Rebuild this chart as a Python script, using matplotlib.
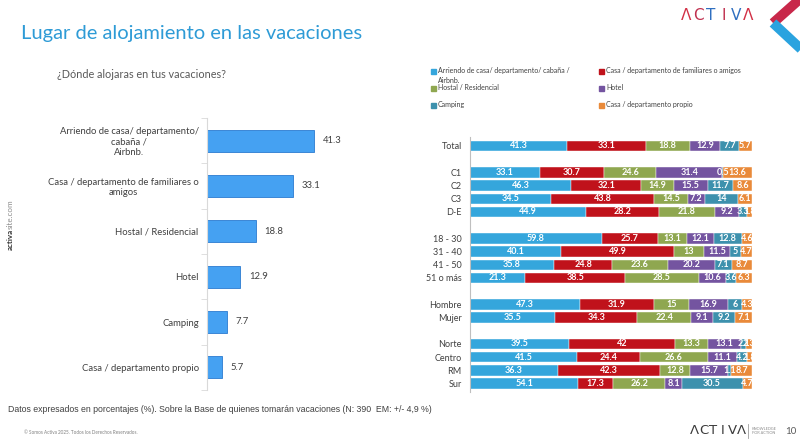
import numpy as np
import matplotlib; matplotlib.use("Agg")
import matplotlib.pyplot as plt
from matplotlib.patches import Rectangle
from matplotlib.lines import Line2D

# ---- data ----
left_cats = ["Arriendo de casa/ departamento/\ncabaña /\nAirbnb.",
             "Casa / departamento de familiares o\namigos",
             "Hostal / Residencial", "Hotel", "Camping", "Casa / departamento propio"]
left_vals = [41.3, 33.1, 18.8, 12.9, 7.7, 5.7]

groups = [["Total"], ["C1", "C2", "C3", "D-E"], ["18 - 30", "31 - 40", "41 - 50", "51 o más"],
          ["Hombre", "Mujer"], ["Norte", "Centro", "RM", "Sur"]]
series_names = ["Arriendo de casa/ departamento/ cabaña /\nAirbnb.",
                "Casa / departamento de familiares o amigos",
                "Hostal / Residencial", "Hotel", "Camping", "Casa / departamento propio"]
arriendo   = [41.3, 33.1, 46.3, 34.5, 44.9, 59.8, 40.1, 35.8, 21.3, 47.3, 35.5, 39.5, 41.5, 36.3, 54.1]
familiares = [33.1, 30.7, 32.1, 43.8, 28.2, 25.7, 49.9, 24.8, 38.5, 31.9, 34.3, 42, 24.4, 42.3, 17.3]
hostal     = [18.8, 24.6, 14.9, 14.5, 21.8, 13.1, 13, 23.6, 28.5, 15, 22.4, 13.3, 26.6, 12.8, 26.2]
hotel      = [12.9, 31.4, 15.5, 7.2, 9.2, 12.1, 11.5, 20.2, 10.6, 16.9, 9.1, 13.1, 11.1, 15.7, 8.1]
camping    = [7.7, 0.5, 11.7, 14, 3.3, 12.8, 5, 7.1, 3.6, 6, 9.2, 2.1, 4.2, 1.1, 30.5]
propio     = [5.7, 13.6, 8.6, 6.1, 1.8, 4.6, 4.7, 8.7, 6.3, 4.3, 7.1, 2.3, 1.8, 8.7, 4.7]
series = [arriendo, familiares, hostal, hotel, camping, propio]
colors = ["#35a6dc", "#c0121b", "#8fa750", "#7454a0", "#3d91ad", "#e98a3a"]

W, H = 800, 442
plt.rcParams['font.family'] = ['Lato', 'DejaVu Sans']
fig = plt.figure(figsize=(8, 4.42), dpi=100)
fx = lambda x: x / W
fy = lambda y: 1 - y / H
TXT = "#404040"

fig.text(fx(21), fy(33), "Lugar de alojamiento en las vacaciones", color="#2e9bd6",
         fontsize=14.5, va="center")
fig.text(fx(57), fy(75), "¿Dónde alojaras en tus vacaciones?", color="#595959", fontsize=7.8, va="center")

# ---- left bars ----
axL = fig.add_axes([fx(207), fy(390), (340 - 207) / W, (390 - 118) / H])
yl = np.arange(len(left_vals))
b = axL.barh(yl, left_vals, height=0.48, color="#45a1f2", edgecolor="#2b7bd0", lw=0.6)
axL.bar_label(b, labels=[f"{v:g}" for v in left_vals], padding=6, fontsize=6.8, color=TXT)
axL.set_xlim(0, 51.3); axL.set_ylim(len(left_vals) - 0.5, -0.5)
axL.set_xticks([])
axL.set_yticks(yl, left_cats, fontsize=6.8, color=TXT)
for t in axL.get_yticklabels(): t.set_multialignment("center")
axL.tick_params(axis="y", length=0, pad=6)
axL.set_yticks(np.arange(-0.5, len(left_vals)), minor=True)
axL.tick_params(axis="y", which="minor", length=4, color="#d9d9d9")
for s in ["top", "right", "bottom"]: axL.spines[s].set_visible(False)
axL.spines["left"].set_color("#d9d9d9")

# ---- right stacked 100% bars ----
labels_r, pos = [], []
p = 0
for g in groups:
    for lab in g:
        labels_r.append(lab); pos.append(p); p += 1
    p += 1
pos = np.array(pos)
vals = np.array(series, dtype=float)
tot = vals.sum(axis=0)
axR = fig.add_axes([fx(470), fy(392), (752 - 470) / W, (392 - 137) / H])
left = np.zeros(len(pos))
for v, c in zip(vals, colors):
    w = v / tot * 100
    bars = axR.barh(pos, w, left=left, height=0.78, color=c, edgecolor="white", lw=0.3)
    axR.bar_label(bars, labels=[f"{x:g}" for x in v], label_type="center", color="white",
                  fontsize=6.5, fontweight="bold")
    left += w
axR.set_xlim(0, 100); axR.set_ylim(18.64, -0.68)
axR.set_xticks([])
axR.set_yticks(pos, labels_r, fontsize=6.5, color=TXT)
axR.tick_params(axis="y", length=0, pad=6)
for s in ["top", "right", "bottom"]: axR.spines[s].set_visible(False)
axR.spines["left"].set_color("#bfbfbf")

# ---- legend ----
leg = [(433, 71), (601, 71), (433, 88), (601, 88), (433, 105), (601, 105)]
for (x, y), name, c in zip(leg, series_names, colors):
    fig.patches.append(Rectangle((fx(x - 2.5), fy(y + 2.5)), 5 / W, 5 / H, color=c, transform=fig.transFigure))
    fig.text(fx(x + 5), fy(y - 4), name, fontsize=5, color=TXT, va="top", linespacing=1.5)

# ---- side label ----
t1 = fig.text(fx(10), fy(250), "activa", rotation=90, fontsize=5.8, fontweight="bold",
              color="#333333", ha="center", va="bottom")
fig.canvas.draw()
bb = t1.get_window_extent(fig.canvas.get_renderer())
fig.text(fx(10), bb.y1 / H, "site.com", rotation=90, fontsize=5.8, color="#8c8c8c", ha="center", va="bottom")

# ---- footer ----
fig.text(fx(8), fy(410), "Datos expresados en porcentajes (%). Sobre la Base de quienes tomarán vacaciones (N: 390  EM: +/- 4,9 %)",
         fontsize=6.3, color="#404040", va="center", family=["Liberation Sans Narrow", "Liberation Sans", "DejaVu Sans"])
fig.text(fx(24), fy(432), "© Somos Activa 2025. Todos los Derechos Reservados.", fontsize=3.3, color="#7f7f7f", va="center")
for i, ch in enumerate("ΛCTIVΛ"):
    fig.text(fx(694 + i * 9.5), fy(431), ch, fontsize=9.5, color="#3a3a3a", ha="center", va="center",
             family=["DejaVu Sans"])
fig.add_artist(Line2D([fx(748), fx(748)], [fy(424), fy(438)], color="#9e9e9e", lw=0.6))
fig.text(fx(752), fy(431), "KNOWLEDGE\nFOR ACTION", fontsize=2.8, color="#8c8c8c", va="center", linespacing=1.3)
fig.text(fx(791), fy(432), "10", fontsize=7, color="#595959", ha="center", va="center")

# ---- top logo ----
logo_cols = ["#d22f45", "#c0304f", "#2f6fc0", "#c0304f", "#2f6fc0", "#d22f45"]
for i, (ch, c) in enumerate(zip("ΛCTIVΛ", logo_cols)):
    fig.text(fx(686 + i * 12.5), fy(15), ch, fontsize=11, color=c, ha="center", va="center",
             family=["DejaVu Sans"])
fig.add_artist(Line2D([fx(800), fx(773)], [fy(-1), fy(23)], color="#c8284a", lw=7, solid_capstyle="butt"))
fig.add_artist(Line2D([fx(773), fx(802)], [fy(23), fy(50)], color="#2aa3df", lw=7, solid_capstyle="butt"))

fig.savefig("out.png", dpi=100, facecolor="white")
